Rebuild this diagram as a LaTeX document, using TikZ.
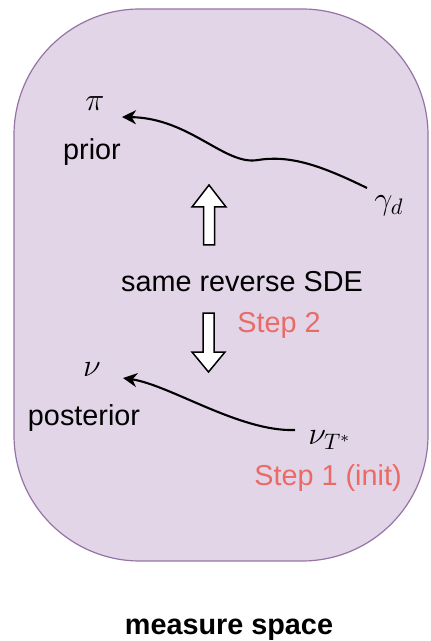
\documentclass[tikz,border=0pt]{standalone}
\usepackage{fontspec}
\setmainfont{Liberation Sans}
\usetikzlibrary{arrows.meta, positioning}
\definecolor{spacefill}{HTML}{E1D5E7}
\definecolor{spacedraw}{HTML}{9673A6}
\definecolor{steptext}{HTML}{EA6B66}

\begin{document}
\begin{tikzpicture}[x=0.5pt, y=-0.5pt,
    every node/.style={font=\fontsize{14.4}{17}\selectfont, inner sep=2pt},
    measure/.style={scale=1.12, transform shape},
    steplabel/.style={text=steptext},
    flow/.style={-{Stealth[length=7pt, width=7pt, inset=2.2pt]}, line width=1.05pt},
    blockarrow/.style={draw=black, fill=white, line width=0.75pt, line join=miter}]

    \useasboundingbox (0,0) rectangle (430,641);
    \draw[draw=spacedraw, fill=spacefill, line width=0.6pt, rounded corners=63pt] (14,9) rectangle (428,561);

    % prior side
    \node[measure] (pi) at (95,104) {$\pi$};
    \node (prior) at (92,152) {prior};
    \node[measure] (gammad) at (389,206) {$\gamma_d$};

    % posterior side
    \node[measure] (nu) at (92,370) {$\nu$};
    \node (posterior) at (84,418) {posterior};
    \node[measure] (nuT) at (330,440) {$\nu_{T^*}$};
    \node[steplabel] (step1) at (328,478) {Step 1 (init)};

    % middle
    \node (sde) at (242,282) {same reverse SDE};
    \node[steplabel, anchor=west] (step2) at (233,325) {Step 2};

    \draw[blockarrow] (209,185) -- (192,207) -- (203.5,207) -- (203.5,245) -- (214.5,245) -- (214.5,207) -- (226,207) -- cycle;
    \draw[blockarrow] (203,313) -- (214,313) -- (214,352) -- (225,352) -- (208.5,372) -- (192,352) -- (203,352) -- cycle;

    % ends of the curved connectors
    \coordinate (gammadtail) at ([shift={(-22,-18)}]gammad.center);
    \coordinate (pitip) at ([shift={(27,13)}]pi.center);
    \coordinate (nuTtail) at ([shift={(-35,-10)}]nuT.center);
    \coordinate (nutip) at ([shift={(31,8)}]nu.center);

    \draw[flow] (gammadtail) .. controls (320,165) and (290,155) .. (258,160)
        .. controls (225,166) and (190,118) .. (pitip);
    \draw[flow] (nuTtail) .. controls (240,432) and (170,385) .. (nutip);

    \node[font=\fontsize{14.4}{17}\selectfont\bfseries] (space) at (229,630) {measure space};
\end{tikzpicture}
\end{document}
